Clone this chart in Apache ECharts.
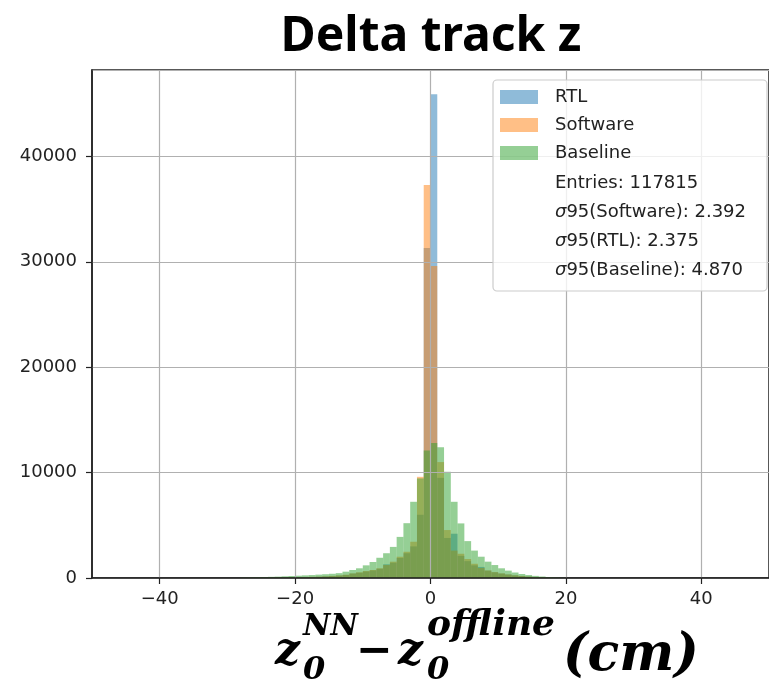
<!DOCTYPE html>
<html>
<head>
<meta charset="utf-8">
<script src="https://cdn.jsdelivr.net/npm/echarts@6/dist/echarts.min.js"></script>
<style>
  html, body { margin: 0; padding: 0; background: #fff; }
  #chart { width: 769px; height: 691px; }
</style>
</head>
<body>
<div id="chart"></div>
<script>
// histogram bins: width 1 cm, first bin starts at -28
const binStart = -28
const binWidth = 1
const xTicks = [-40, -20, 0, 20, 40]

// counts per bin, from -28 to +19
const rtl = [10, 15, 20, 20, 30, 35, 45, 55, 65, 80, 100, 120, 150, 180, 230, 290,
  420, 500, 620, 720, 880, 1300, 1450, 1900, 2350, 3000, 6000, 31300,
  45900, 9500, 3800, 4200, 2100, 1600, 1200, 1050, 700, 540, 420, 330, 250, 180, 130, 90, 60, 40, 20, 10]
const software = [10, 15, 20, 25, 30, 40, 50, 60, 70, 90, 110, 130, 160, 200, 250, 310,
  440, 540, 660, 760, 920, 1230, 1550, 2020, 2490, 3440, 9600, 37300,
  29600, 11000, 4550, 2600, 2300, 1800, 1350, 950, 720, 560, 440, 340, 260, 190, 140, 100, 70, 40, 20, 10]
const baseline = [30, 50, 70, 90, 110, 130, 160, 190, 220, 250, 280, 320, 360, 400, 460,
  600, 760, 920, 1200, 1520, 1920, 2350, 2950, 3900, 5200, 7230, 9450, 12100,
  12800, 12400, 10080, 7230, 5180, 3500, 2600, 2020, 1550, 1230, 920, 700, 520, 380, 280, 200, 140, 90, 50, 20]

const statLines = ['Entries: 117815', 'σ95(Software): 2.392', 'σ95(RTL): 2.375', 'σ95(Baseline): 4.870']

const toBins = arr => arr.map((v, i) => [binStart + i * binWidth, binStart + (i + 1) * binWidth, v])

const renderBar = (params, api) => {
  const p0 = api.coord([api.value(0), api.value(2)])
  const p1 = api.coord([api.value(1), 0])
  return {
    type: 'rect',
    shape: { x: p0[0], y: p0[1], width: p1[0] - p0[0], height: p1[1] - p0[1] },
    style: { fill: api.visual('color') },
  }
}

const histSeries = (name, color, arr) => ({
  type: 'custom',
  name: name,
  renderItem: renderBar,
  itemStyle: { color: color },
  encode: { x: [0, 1], y: 2 },
  data: toBins(arr),
})

// math label pieces, y is the text baseline
const mathFont = 'DejaVu Serif'
const mathText = (str, x, base, size, italic) => ({
  type: 'text',
  x: x,
  y: base - 0.346 * size,
  style: {
    text: str,
    fontFamily: mathFont,
    fontWeight: 'bold',
    fontStyle: italic === false ? 'normal' : 'italic',
    fontSize: size,
    fill: '#000',
    verticalAlign: 'middle',
  },
})

const option = {
  animation: false,
  title: {
    text: 'Delta track z',
    left: 426,
    top: 8,
    textAlign: 'center',
    textStyle: {
      fontFamily: 'Noto Sans',
      fontWeight: 'bold',
      fontSize: 48,
      color: '#000',
    },
  },
  grid: {
    left: 92,
    right: -3,
    top: 70,
    bottom: 113,
    show: true,
    borderColor: '#222',
    borderWidth: 1.5,
  },
  xAxis: {
    type: 'value',
    min: -50,
    max: 50,
    z: 3,
    axisLine: { lineStyle: { color: '#222', width: 1.5 } },
    axisTick: { show: true, length: 6, lineStyle: { color: '#222', width: 1.2 }, customValues: xTicks },
    axisLabel: {
      customValues: xTicks,
      margin: 12,
      fontSize: 18,
      fontFamily: 'DejaVu Sans',
      color: '#222',
      formatter: v => (v < 0 ? '\u2212' + Math.abs(v) : String(v)),
    },
    splitLine: { show: true, lineStyle: { color: '#b0b0b0', width: 1.2 } },
  },
  yAxis: {
    type: 'value',
    min: 0,
    max: 48200,
    interval: 10000,
    z: 3,
    axisLine: { show: true, onZero: false, lineStyle: { color: '#222', width: 1.5 } },
    axisTick: { show: true, length: 6, lineStyle: { color: '#222', width: 1.2 } },
    axisLabel: {
      showMaxLabel: false,
      margin: 15,
      fontSize: 18,
      fontFamily: 'DejaVu Sans',
      color: '#222',
      formatter: v => String(v),
    },
    splitLine: { show: true, lineStyle: { color: '#b0b0b0', width: 1.2 } },
  },
  legend: {
    data: ['RTL', 'Software', 'Baseline'],
    orient: 'vertical',
    left: 500,
    top: 87,
    padding: 0,
    z: 6,
    icon: 'rect',
    itemWidth: 38,
    itemHeight: 14,
    itemGap: 8,
    selectedMode: false,
    textStyle: {
      fontFamily: 'DejaVu Sans',
      fontSize: 18,
      lineHeight: 20,
      color: '#222',
      padding: [0, 0, 0, 12],
    },
  },
  graphic: [
    {
      type: 'rect',
      z: 5,
      shape: { x: 493, y: 80, width: 274, height: 211, r: 4 },
      style: { fill: 'rgba(255,255,255,0.8)', stroke: '#cccccc', lineWidth: 1.2 },
    },
    ...statLines.map((s, i) => ({
      type: 'text',
      z: 6,
      x: 555,
      y: 183 + i * 29,
      style: {
        text: s.replace('σ', '{i|σ}'),
        fontFamily: 'DejaVu Sans',
        fontSize: 18,
        fill: '#222',
        verticalAlign: 'middle',
        rich: { i: { fontFamily: 'DejaVu Sans', fontStyle: 'italic', fontSize: 18, fill: '#222' } },
      },
    })),
    mathText('z', 275, 668, 44),
    mathText('NN', 303, 638, 30),
    mathText('0', 303, 682, 32),
    mathText('\u2212', 356, 668, 44, false),
    mathText('z', 398, 668, 44),
    mathText('offline', 427, 638, 36),
    mathText('0', 427, 682, 32),
    mathText('(cm)', 563, 674, 52),
  ],
  series: [
    histSeries('RTL', 'rgba(31,119,180,0.5)', rtl),
    histSeries('Software', 'rgba(255,127,14,0.5)', software),
    histSeries('Baseline', 'rgba(44,160,44,0.5)', baseline),
  ],
}

const myChart = echarts.init(document.getElementById('chart'))
myChart.setOption(option)
</script>
</body>
</html>
